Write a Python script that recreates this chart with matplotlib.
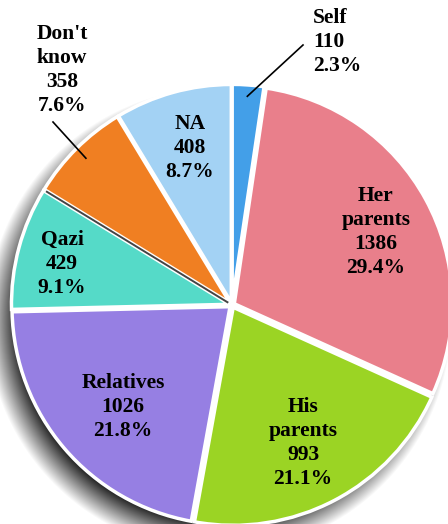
import numpy as np
import matplotlib
matplotlib.use("Agg")
import matplotlib.pyplot as plt
from matplotlib.patches import Circle

# data
labels = ["Self", "Her\nparents", "His\nparents", "Relatives", "Qazi", "Don't\nknow", "NA"]
counts = [110, 1386, 993, 1026, 429, 358, 408]
percents = ["2.3%", "29.4%", "21.1%", "21.8%", "9.1%", "7.6%", "8.7%"]
colors = ["#439fe8", "#e97f8b", "#9bd424", "#967fe3", "#55dac8", "#f07f22", "#a3d2f4"]

# geometry in pixels (pie centre and radius on a 448x524 canvas)
W, H = 448, 524
cx, cy, R = 232, 305, 218

def to_data(px, py):
    return (px - cx) / R, (cy - py) / R

# label centres in pixels (Self is left aligned)
label_px = [(313, 42), (376, 232), (303, 443), (123, 407), (62, 264), (62, 70), (190, 148)]
# leader lines: (fraction of radius for inner end, outer end in pixels)
leaders = {0: (0.96, (303, 45)), 5: (0.95, (53, 122))}

plt.rcParams['font.family'] = ['Liberation Serif', 'DejaVu Serif']

fig = plt.figure(figsize=(W / 100, H / 100), dpi=100)
ax = fig.add_axes([0, 0, 1, 1])
x0, x1 = -cx / R, (W - cx) / R
y0, y1 = -(H - cy) / R, cy / R

# soft drop shadow towards lower left
gx, gy = np.meshgrid(np.linspace(x0, x1, W), np.linspace(y1, y0, H))
d = np.hypot(gx + 0.06, gy + 0.07)
a = np.clip((1.0 - d) / 0.14 + 0.5, 0, 1) * 0.85
shadow = np.zeros((H, W, 4))
shadow[..., 3] = a
ax.imshow(shadow, extent=(x0, x1, y0, y1), zorder=0, interpolation="bilinear")
ax.add_patch(Circle((0, 0), 1.0, color="white", zorder=1))

wedges, _ = ax.pie(counts, colors=colors, startangle=90, counterclock=False,
                   explode=[0.012] * len(counts), radius=1.0,
                   wedgeprops=dict(edgecolor="white", linewidth=2.5))
for w in wedges:
    w.set_zorder(2)

# dark seam between Qazi and Don't know
total = sum(counts)
seam = np.deg2rad(90 - 360 * sum(counts[:5]) / total)
ax.plot([0.02 * np.cos(seam), 1.0 * np.cos(seam)], [0.02 * np.sin(seam), 1.0 * np.sin(seam)],
        color="#444444", lw=1.4, zorder=3, solid_capstyle="butt")

for i, w in enumerate(wedges):
    txt = f"{labels[i]}\n{counts[i]}\n{percents[i]}"
    lx, ly = to_data(*label_px[i])
    ha = "left" if i == 0 else "center"
    ax.text(lx, ly, txt, ha=ha, va="center", fontsize=15.5, fontweight="bold",
            linespacing=1.27, zorder=4)
    if i in leaders:
        frac, outer = leaders[i]
        ang = np.deg2rad((w.theta1 + w.theta2) / 2)
        sx, sy = frac * np.cos(ang), frac * np.sin(ang)
        ex, ey = to_data(*outer)
        ax.plot([sx, ex], [sy, ey], color="black", lw=1.2, zorder=4)

ax.set_xlim(x0, x1)
ax.set_ylim(y0, y1)
ax.set_aspect("equal")
ax.axis("off")

fig.savefig("out.png", dpi=100, facecolor="white")
